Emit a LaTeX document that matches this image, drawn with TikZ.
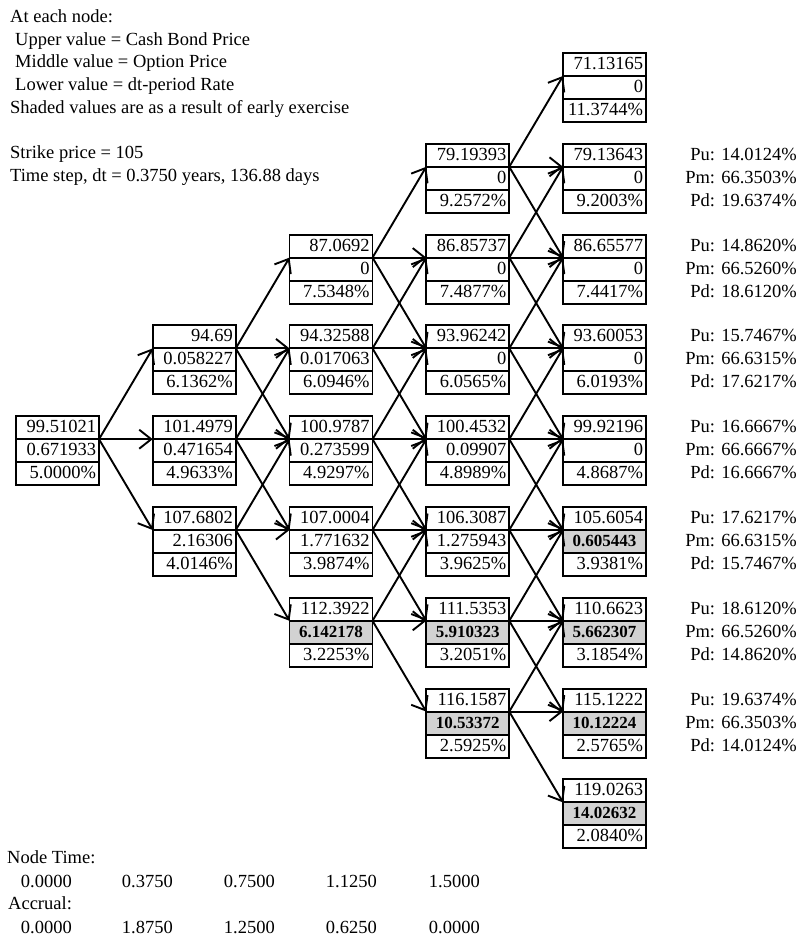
\documentclass[tikz,border=0pt]{standalone}
\usepackage{fontspec}
\setmainfont{Liberation Serif}
\usetikzlibrary{arrows.meta, positioning}

% tree node: column, row, bond price, option price, rate
\newcommand{\tnode}[5]{%
  \node[cell, anchor=north west] (n#1#2u) at ({16+136.75*#1},{53+90.8*#2}) {#3};
  \node[cell, below=0pt of n#1#2u] (n#1#2m) {#4};
  \node[cell, below=0pt of n#1#2m] (n#1#2l) {#5};}
% same, with early exercise shading
\newcommand{\snode}[5]{%
  \node[cell, anchor=north west] (n#1#2u) at ({16+136.75*#1},{53+90.8*#2}) {#3};
  \node[shade, below=0pt of n#1#2u] (n#1#2m) {#4};
  \node[cell, below=0pt of n#1#2m] (n#1#2l) {#5};}
% branch probabilities next to the last column
\newcommand{\probs}[4]{%
  \node[num] (pu#1) at (797,{53+90.8*#1+16.5}) {Pu: #2\%};
  \node[num] (pm#1) at (797,{53+90.8*#1+39.5}) {Pm: #3\%};
  \node[num] (pd#1) at (797,{53+90.8*#1+62.5}) {Pd: #4\%};}

\begin{document}
\begin{tikzpicture}[x=1pt, y=-1pt, font=\fontsize{18.5pt}{22pt}\selectfont,
  cell/.style={draw, line width=1.9pt, outer sep=0pt, text width=77pt, inner xsep=3pt, inner ysep=0pt, minimum height=23pt, text height=13pt, text depth=3pt, align=right},
  shade/.style={cell, fill=gray!35, align=center, font=\fontsize{17pt}{20pt}\selectfont\bfseries},
  link/.style={-{Straight Barb[length=12pt,width=19pt]}, line width=1.9pt},
  txt/.style={inner sep=0pt, anchor=base west},
  num/.style={inner sep=0pt, anchor=base east}]
\useasboundingbox (0,0) rectangle (807,936);

% legend
\node[txt] (hd1) at (10,23) {At each node:};
\node[txt] (hd2) at (15,45.5) {Upper value = Cash Bond Price};
\node[txt] (hd3) at (15,68) {Middle value = Option Price};
\node[txt] (hd4) at (15,91) {Lower value = dt-period Rate};
\node[txt] (hd5) at (10,113.5) {Shaded values are as a result of early exercise};
\node[txt] (hd6) at (10,159) {Strike price = 105};
\node[txt] (hd7) at (10,181.5) {Time step, dt = 0.3750 years, 136.88 days};

% the tree
\tnode{0}{4}{99.51021}{0.671933}{5.0000\%}
\tnode{1}{3}{94.69}{0.058227}{6.1362\%}
\tnode{1}{4}{101.4979}{0.471654}{4.9633\%}
\tnode{1}{5}{107.6802}{2.16306}{4.0146\%}
\tnode{2}{2}{87.0692}{0}{7.5348\%}
\tnode{2}{3}{94.32588}{0.017063}{6.0946\%}
\tnode{2}{4}{100.9787}{0.273599}{4.9297\%}
\tnode{2}{5}{107.0004}{1.771632}{3.9874\%}
\snode{2}{6}{112.3922}{6.142178}{3.2253\%}
\tnode{3}{1}{79.19393}{0}{9.2572\%}
\tnode{3}{2}{86.85737}{0}{7.4877\%}
\tnode{3}{3}{93.96242}{0}{6.0565\%}
\tnode{3}{4}{100.4532}{0.09907}{4.8989\%}
\tnode{3}{5}{106.3087}{1.275943}{3.9625\%}
\snode{3}{6}{111.5353}{5.910323}{3.2051\%}
\snode{3}{7}{116.1587}{10.53372}{2.5925\%}
\tnode{4}{0}{71.13165}{0}{11.3744\%}
\tnode{4}{1}{79.13643}{0}{9.2003\%}
\tnode{4}{2}{86.65577}{0}{7.4417\%}
\tnode{4}{3}{93.60053}{0}{6.0193\%}
\tnode{4}{4}{99.92196}{0}{4.8687\%}
\snode{4}{5}{105.6054}{0.605443}{3.9381\%}
\snode{4}{6}{110.6623}{5.662307}{3.1854\%}
\snode{4}{7}{115.1222}{10.12224}{2.5765\%}
\snode{4}{8}{119.0263}{14.02632}{2.0840\%}

% up, middle and down branches
\foreach \ci in {0,...,3}{
  \pgfmathtruncatemacro\di{\ci+1}
  \pgfmathtruncatemacro\lo{4-\ci}
  \pgfmathtruncatemacro\hi{4+\ci}
  \foreach \ki in {\lo,...,\hi}{
    \foreach \ti in {-1,0,1}{
      \pgfmathtruncatemacro\ri{\ki+\ti}
      \draw[link] (n\ci\ki u.south east) -- (n\di\ri u.south west);
    }
  }
}

\probs{1}{14.0124}{66.3503}{19.6374}
\probs{2}{14.8620}{66.5260}{18.6120}
\probs{3}{15.7467}{66.6315}{17.6217}
\probs{4}{16.6667}{66.6667}{16.6667}
\probs{5}{17.6217}{66.6315}{15.7467}
\probs{6}{18.6120}{66.5260}{14.8620}
\probs{7}{19.6374}{66.3503}{14.0124}

% time line
\node[txt] (ntime) at (7,863) {Node Time:};
\node[num] (t0) at (72,887) {0.0000};
\node[num] (t1) at (173,887) {0.3750};
\node[num] (t2) at (275,887) {0.7500};
\node[num] (t3) at (377,887) {1.1250};
\node[num] (t4) at (480,887) {1.5000};
\node[txt] (accr) at (8,909) {Accrual:};
\node[num] (a0) at (72,933) {0.0000};
\node[num] (a1) at (173,933) {1.8750};
\node[num] (a2) at (275,933) {1.2500};
\node[num] (a3) at (377,933) {0.6250};
\node[num] (a4) at (480,933) {0.0000};
\end{tikzpicture}
\end{document}
